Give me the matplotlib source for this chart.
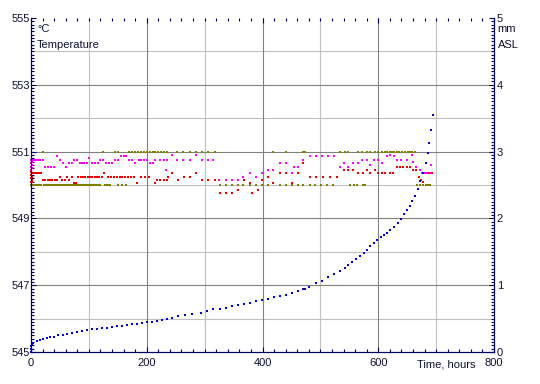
import matplotlib
matplotlib.use('Agg')
import matplotlib.pyplot as plt
import numpy as np
from matplotlib.ticker import MultipleLocator

# water level, mm ASL (right axis)
lvl_hours = [0, 0, 0, 1.7, 4, 10, 15.5, 20.7, 27, 33, 40, 46.6, 55, 62, 71, 79.5, 88, 97,
             105, 114, 123, 131.5, 140, 149, 157.5, 166, 175, 183, 192, 200, 209, 218,
             226, 235, 243.6, 254, 266, 278, 294, 304, 314.5, 326.5, 337, 347, 357.6,
             368, 378, 389, 399, 409.5, 420, 430, 440.5, 451, 461, 470, 473, 480, 492,
             503, 513, 523.5, 534, 542.5, 548, 555, 561.5, 568.4, 575, 580.5, 585.7,
             592.6, 598, 604.7, 610, 615, 620, 627, 634, 639, 644.4, 649.6, 655, 658,
             663, 668.6, 672, 677, 682, 686, 688, 691, 694.5]
lvl_mm = [0.0, 0.045, 0.09, 0.12, 0.14, 0.165, 0.18, 0.19, 0.205, 0.22, 0.23, 0.25, 0.26,
          0.27, 0.29, 0.30, 0.31, 0.33, 0.34, 0.345, 0.355, 0.365, 0.375, 0.385, 0.395,
          0.405, 0.415, 0.425, 0.435, 0.445, 0.455, 0.47, 0.48, 0.495, 0.505, 0.535, 0.55,
          0.57, 0.59, 0.61, 0.64, 0.65, 0.665, 0.69, 0.70, 0.72, 0.73, 0.76, 0.78, 0.80,
          0.82, 0.84, 0.86, 0.89, 0.92, 0.94, 0.95, 0.97, 1.03, 1.07, 1.13, 1.17, 1.21,
          1.26, 1.30, 1.35, 1.39, 1.44, 1.48, 1.53, 1.59, 1.63, 1.68, 1.72, 1.75, 1.78,
          1.83, 1.87, 1.93, 1.99, 2.07, 2.13, 2.19, 2.26, 2.34, 2.44, 2.56, 2.68, 2.83,
          2.98, 3.13, 3.32, 3.55]

# temperature, red series
red_hours = [0, 0, 0, 0, 1, 1, 2, 2, 3, 5, 8, 11, 14, 17, 21, 25, 29, 33, 37, 41, 45, 50,
             54, 58, 62, 66, 70, 74, 78, 82, 86, 90, 94, 98, 102, 106, 110, 114, 118, 122,
             126, 133, 138, 143, 148, 153, 158, 163, 168, 173, 178, 183, 190, 197, 204,
             214, 218, 223, 229, 235, 237, 243, 254, 264, 275, 285, 295, 306, 318, 327,
             337, 347, 358, 368, 378, 381, 392, 399, 409, 418, 430, 440, 451, 461, 470,
             482, 493, 505, 516, 528, 540, 548, 556, 565, 574, 580, 586, 594, 600, 606,
             612, 620, 626, 632, 637, 643, 649, 655, 660, 665, 670, 674, 678, 682, 686,
             690, 693]
red_temp = [550.1, 550.2, 550.3, 550.4, 550.15, 550.35, 550.25, 550.1, 550.35, 550.35,
            550.35, 550.35, 550.35, 550.35, 550.15, 550.15, 550.15, 550.15, 550.15, 550.15,
            550.15, 550.25, 550.15, 550.15, 550.25, 550.15, 550.25, 550.05, 550.05, 550.25,
            550.25, 550.25, 550.25, 550.25, 550.25, 550.25, 550.25, 550.25, 550.25, 550.25,
            550.35, 550.25, 550.25, 550.25, 550.25, 550.25, 550.25, 550.25, 550.25, 550.25,
            550.25, 550.05, 550.25, 550.25, 550.25, 550.05, 550.15, 550.15, 550.15, 550.15,
            550.25, 550.35, 550.15, 550.25, 550.25, 550.35, 550.15, 550.15, 550.15, 549.75,
            549.75, 549.75, 549.85, 550.15, 550.05, 549.75, 549.85, 550.15, 550.25, 550.05,
            550.35, 550.35, 550.05, 550.35, 550.65, 550.25, 550.25, 550.25, 550.25, 550.25,
            550.45, 550.45, 550.45, 550.35, 550.35, 550.45, 550.35, 550.45, 550.35, 550.35,
            550.35, 550.35, 550.35, 550.55, 550.55, 550.55, 550.55, 550.55, 550.45, 550.45,
            550.25, 550.15, 550.1, 550.35, 550.35, 550.35, 550.35]

# temperature, magenta series
mag_hours = [0, 0, 0, 0, 1, 1, 2, 3, 5, 8, 12, 16, 20, 25, 30, 35, 40, 45, 50, 55, 61, 66,
             70, 75, 79, 84, 88, 92, 97, 101, 106, 110, 115, 120, 125, 130, 135, 140, 145,
             150, 155, 160, 165, 170, 175, 180, 186, 190, 196, 200, 205, 210, 215, 223, 229,
             233, 235, 243, 252, 263, 275, 285, 295, 306, 315, 325, 337, 347, 357, 366, 378,
             389, 399, 409, 418, 430, 440, 451, 455, 461, 470, 482, 493, 503, 514, 524, 534,
             540, 548, 556, 565, 572, 580, 586, 592, 600, 606, 615, 620, 627, 632, 640, 650,
             658, 660, 665, 672, 676, 680, 685, 690, 692]
mag_temp = [550.45, 550.55, 550.65, 550.75, 550.5, 550.7, 550.6, 550.75, 550.75, 550.75,
            550.75, 550.75, 550.75, 550.55, 550.55, 550.55, 550.55, 550.87, 550.75, 550.65,
            550.55, 550.65, 550.65, 550.75, 550.75, 550.65, 550.65, 550.65, 550.65, 550.8,
            550.65, 550.65, 550.65, 550.75, 550.75, 550.65, 550.65, 550.65, 550.75, 550.75,
            550.87, 550.87, 550.87, 550.75, 550.75, 550.65, 550.75, 550.75, 550.75, 550.75,
            550.65, 550.65, 550.75, 550.75, 550.75, 550.45, 550.75, 550.9, 550.75, 550.75,
            550.75, 550.9, 550.75, 550.75, 550.75, 550.15, 550.15, 550.15, 550.15, 550.25,
            550.35, 550.25, 550.35, 550.45, 550.45, 550.65, 550.65, 550.35, 550.55, 550.55,
            550.75, 550.87, 550.87, 550.87, 550.87, 550.87, 550.55, 550.65, 550.55, 550.65,
            550.65, 550.75, 550.75, 550.6, 550.75, 550.75, 550.65, 550.87, 550.9, 550.87,
            550.75, 550.75, 550.75, 550.9, 550.7, 550.55, 550.45, 550.35, 550.35, 550.35,
            550.35, 550.6]

# temperature, olive series (upper and lower readings)
olv_hi_hours = [20, 124, 145, 150, 170, 175, 180, 185, 190, 195, 200, 205, 210, 215, 220,
                225, 230, 235, 252, 263, 275, 285, 295, 306, 318, 418, 440, 470, 473, 534,
                542, 548, 565, 572, 580, 586, 594, 600, 606, 612, 615, 620, 624, 627, 632,
                636, 641, 646, 651, 655, 658, 663]
olv_lo_hours = [0, 2, 4, 6, 8, 11, 14, 17, 23, 26, 29, 32, 35, 38, 41, 44, 47, 50, 53, 56,
                59, 62, 65, 68, 71, 74, 77, 80, 83, 86, 89, 92, 95, 98, 101, 104, 107, 110,
                113, 116, 119, 127, 130, 133, 137, 150, 157, 165, 327, 337, 347, 357, 366,
                378, 389, 399, 409, 430, 440, 451, 461, 470, 482, 491, 501, 511, 522, 551,
                558, 563, 574, 577, 667, 672, 677, 682, 686, 690]
olv_hi_temp = [551.0] * len(olv_hi_hours)
olv_lo_temp = [550.0] * len(olv_lo_hours)

navy = '#000060'
txt = '#101030'
plt.rcParams['font.family'] = ['Liberation Sans', 'DejaVu Sans']
plt.rcParams['font.size'] = 8

fig = plt.figure(figsize=(5.4, 3.84), dpi=100)
ax = fig.add_axes([31 / 540, 1 - 352 / 384, 463 / 540, 334 / 384])
ax2 = ax.twinx()

ax.set_xlim(0, 800)
ax.set_ylim(545, 555)
ax2.set_ylim(0, 5)

# grid: light lines in between, darker on labelled values
for v in np.arange(100, 800, 200):
    ax.axvline(v, color='#c0c0c0', lw=0.8, zorder=0)
for v in np.arange(546, 555, 2):
    ax.axhline(v, color='#c0c0c0', lw=0.8, zorder=0)
for v in np.arange(200, 800, 200):
    ax.axvline(v, color='#808080', lw=0.8, zorder=0)
for v in np.arange(547, 555, 2):
    ax.axhline(v, color='#808080', lw=0.8, zorder=0)

ms = 1.8
ax.plot(olv_lo_hours, olv_lo_temp, 's', ms=ms, mew=0, color='#808000', clip_on=False)
ax.plot(olv_hi_hours, olv_hi_temp, 's', ms=ms, mew=0, color='#808000', clip_on=False)
ax.plot(red_hours, red_temp, 's', ms=ms, mew=0, color='#ee0000', clip_on=False)
ax.plot(mag_hours, mag_temp, 's', ms=ms, mew=0, color='#ff00ff', clip_on=False)
ax2.plot(lvl_hours, lvl_mm, 's', ms=2.0, mew=0, color='#0000e0', clip_on=False)

ax.set_xticks(np.arange(0, 801, 200))
ax.xaxis.set_minor_locator(MultipleLocator(20))
ax.set_yticks(np.arange(545, 556, 2))
ax.yaxis.set_minor_locator(MultipleLocator(0.1))
ax2.set_yticks(np.arange(0, 6, 1))
ax2.yaxis.set_minor_locator(MultipleLocator(0.05))

ax.tick_params(axis='both', which='both', direction='in', colors=navy, labelcolor=txt)
ax.tick_params(axis='x', which='both', top=True)
ax.tick_params(which='major', length=3.5, width=0.8)
ax.tick_params(which='minor', length=2, width=0.8)
ax.tick_params(axis='x', pad=4.5)
ax.tick_params(axis='y', pad=1)
ax2.tick_params(axis='y', which='both', direction='in', colors=navy, labelcolor=txt, pad=2)
ax2.tick_params(which='major', length=3.5, width=0.8)
ax2.tick_params(which='minor', length=2, width=0.8)

for a in (ax, ax2):
    a.spines['top'].set_visible(False)
    for s in ('left', 'right', 'bottom'):
        a.spines[s].set_color(navy)
        a.spines[s].set_linewidth(0.8)

ax.text(0.013, 0.967, '°C', transform=ax.transAxes, ha='left', va='center', color=txt)
ax.text(0.013, 0.919, 'Temperature', transform=ax.transAxes, ha='left', va='center', color=txt)
ax.text(1.008, 0.967, 'mm', transform=ax.transAxes, ha='left', va='center', color=txt)
ax.text(1.008, 0.919, 'ASL', transform=ax.transAxes, ha='left', va='center', color=txt)
ax.text(0.959, -0.036, 'Time, hours', transform=ax.transAxes, ha='right', va='center', color=txt)

fig.savefig('out.png', dpi=100)
